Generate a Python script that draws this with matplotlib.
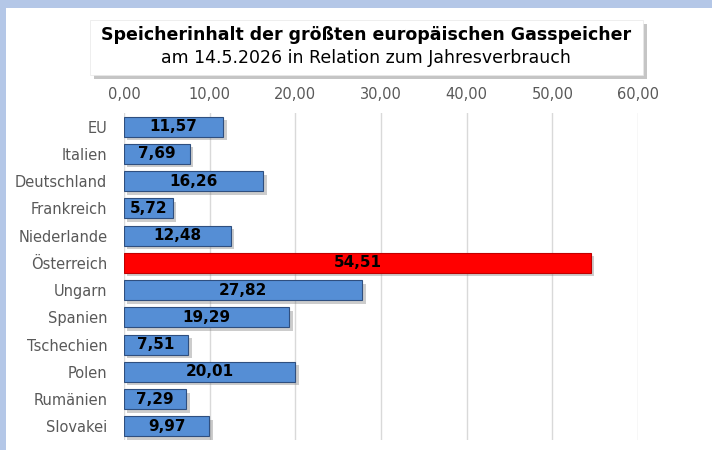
import matplotlib
matplotlib.use("Agg")
import matplotlib.pyplot as plt
import matplotlib.patheffects as pe
from matplotlib.patches import Rectangle, FancyBboxPatch

countries = ["EU", "Italien", "Deutschland", "Frankreich", "Niederlande", "Österreich",
             "Ungarn", "Spanien", "Tschechien", "Polen", "Rumänien", "Slovakei"]
values = [11.57, 7.69, 16.26, 5.72, 12.48, 54.51, 27.82, 19.29, 7.51, 20.01, 7.29, 9.97]
highlight = "Österreich"
xticks = [0, 10, 20, 30, 40, 50, 60]

title1 = "Speicherinhalt der größten europäischen Gasspeicher"
title2 = "am 14.5.2026 in Relation zum Jahresverbrauch"

plt.rcParams['font.family'] = ['DejaVu Sans']

fig = plt.figure(figsize=(7.12, 4.5), dpi=100)
fig.patch.set_facecolor("white")

# light blue frame at top and left
fig.patches.append(Rectangle((0, 1 - 8 / 450), 1, 8 / 450, transform=fig.transFigure,
                             facecolor="#B4C7E7", edgecolor="none", zorder=0))
fig.patches.append(Rectangle((0, 0), 6 / 712, 1, transform=fig.transFigure,
                             facecolor="#B4C7E7", edgecolor="none", zorder=0))

ax = fig.add_axes([124 / 712, 1 - 440 / 450, (638 - 124) / 712, (440 - 113) / 450])

colors = ["#FF0000" if c == highlight else "#558ED5" for c in countries]
edges = ["#C00000" if c == highlight else "#2F4F7F" for c in countries]
ypos = list(range(len(countries)))
bars = ax.barh(ypos, values, height=0.74, color=colors, edgecolor=edges, linewidth=0.8, zorder=3)
for b in bars:
    b.set_path_effects([pe.SimplePatchShadow(offset=(2.5, -2.5), shadow_rgbFace="#808080", alpha=0.4),
                        pe.Normal()])

for y, v in zip(ypos, values):
    ax.text(v / 2, y, f"{v:.2f}".replace(".", ","), ha="center", va="center",
            fontsize=11, fontweight="bold", color="black", zorder=4)

ax.set_xlim(0, 60)
ax.set_ylim(11.5, -0.5)
ax.set_yticks(ypos)
ax.set_yticklabels(countries, fontsize=10.5, color="#595959")
ax.set_xticks(xticks)
ax.set_xticklabels([f"{t:.2f}".replace(".", ",") for t in xticks], fontsize=10.5, color="#595959")
ax.xaxis.tick_top()
ax.tick_params(axis="both", length=0, pad=8)
ax.tick_params(axis="y", pad=12)
ax.grid(axis="x", color="#D9D9D9", linewidth=1, zorder=0)
for s in ax.spines.values():
    s.set_visible(False)

# title box with shadow
box = FancyBboxPatch((90 / 712, 1 - 75 / 450), (643 - 90) / 712, 55 / 450,
                     boxstyle="square,pad=0", transform=fig.transFigure,
                     facecolor="white", edgecolor="#E8E8E8", linewidth=0.5, zorder=5)
box.set_path_effects([pe.SimplePatchShadow(offset=(3, -3), shadow_rgbFace="#808080", alpha=0.45),
                      pe.Normal()])
fig.patches.append(box)
fig.text(366 / 712, 1 - 35 / 450, title1, ha="center", va="center", fontsize=12.5,
         fontweight="bold", color="black", zorder=6)
fig.text(366 / 712, 1 - 58 / 450, title2, ha="center", va="center", fontsize=12.5,
         color="black", zorder=6)

fig.savefig("out.png", dpi=100)
